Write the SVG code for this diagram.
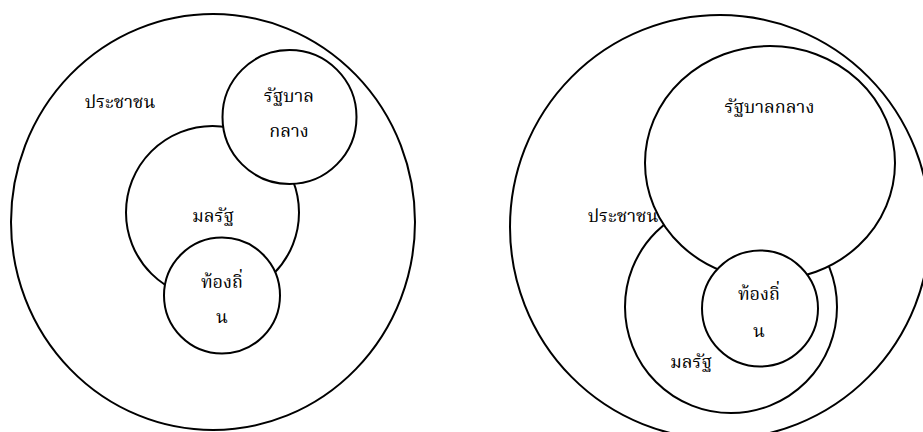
<svg xmlns="http://www.w3.org/2000/svg" width="923" height="432" viewBox="0 0 923 432">
<style>
.c{fill:#fff;stroke:#000;stroke-width:2}
.t{font-family:"Noto Serif Thai","Liberation Serif","DejaVu Serif",serif;font-size:18px;fill:#000;text-anchor:middle}
</style>
<rect width="923" height="432" fill="#fff"/>
<g id="left">
<g id="L-people"><ellipse class="c" cx="213" cy="222" rx="202" ry="208"/><text class="t" x="120" y="108">ประชาชน</text></g>
<g id="L-state"><circle class="c" cx="212.5" cy="212.5" r="86.5"/><text class="t" x="213" y="222">มลรัฐ</text></g>
<g id="L-central"><circle class="c" cx="289.5" cy="117" r="67"/><text class="t" x="289" y="102">รัฐบาล</text><text class="t" x="289" y="137">กลาง</text></g>
<g id="L-local"><circle class="c" cx="222" cy="295.5" r="58"/><text class="t" x="222" y="288">ท้องถิ่</text><text class="t" x="222" y="323">น</text></g>
</g>
<g id="right">
<g id="R-people"><ellipse class="c" cx="720" cy="227" rx="210" ry="212"/><text class="t" x="623" y="222">ประชาชน</text></g>
<g id="R-state"><circle class="c" cx="731" cy="307" r="106"/><text class="t" x="691" y="368">มลรัฐ</text></g>
<g id="R-central"><ellipse class="c" cx="770" cy="163" rx="125" ry="117"/><text class="t" x="769.5" y="113">รัฐบาลกลาง</text></g>
<g id="R-local"><circle class="c" cx="760" cy="308.5" r="58"/><text class="t" x="759" y="300">ท้องถิ่</text><text class="t" x="759" y="337">น</text></g>
</g>
<g id="connectors"/>
</svg>
